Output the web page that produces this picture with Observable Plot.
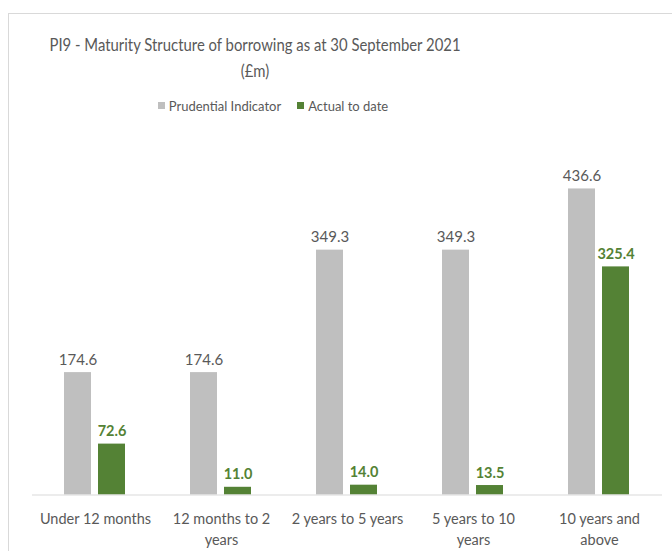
<!DOCTYPE html>
<html>
<head>
<meta charset="utf-8">
<script src="https://cdn.jsdelivr.net/npm/d3@7"></script>
<script src="https://cdn.jsdelivr.net/npm/@observablehq/plot@0.6"></script>
<style>
  html, body { margin: 0; padding: 0; background: #fff; }
  #page { position: relative; width: 672px; height: 551px; overflow: hidden; font-family: Lato, "Open Sans", sans-serif; }
  #frame { position: absolute; left: 8px; top: 13px; width: 700px; height: 600px; border: 1px solid #d9d9d9; box-sizing: border-box; }
  #title { position: absolute; left: 0; width: 510px; top: 32px; text-align: center; font-size: 17.5px; line-height: 26px; color: #595959; transform: scaleX(0.85); transform-origin: 255px 0; }
  #legend { position: absolute; left: 0; width: 546px; top: 96px; text-align: center; font-size: 13px; color: #595959; }
  #legend span.item { display: inline-flex; align-items: center; margin: 0 8px; }
  #legend span.sw { display: inline-block; width: 7px; height: 7px; margin-right: 4px; }
  #chart { position: absolute; left: 0; top: 130px; }
</style>
</head>
<body>
<div id="page">
  <div id="frame"></div>
  <div id="title">PI9 - Maturity Structure of borrowing as at 30 September 2021<br>(£m)</div>
  <div id="legend"></div>
  <div id="chart"></div>
</div>
<script>
const categories = ["Under 12 months", "12 months to 2 years", "2 years to 5 years", "5 years to 10 years", "10 years and above"];
const tickLabels = ["Under 12 months", "12 months to 2\nyears", "2 years to 5 years", "5 years to 10\nyears", "10 years and\nabove"];
const series = ["Prudential Indicator", "Actual to date"];
const prudential = [174.6, 174.6, 349.3, 349.3, 436.6];
const actual = [72.6, 11.0, 14.0, 13.5, 325.4];
const colors = ["#bfbfbf", "#548235"];
const labelColors = ["#595959", "#548235"];

const data = [];
categories.forEach((c, i) => {
  data.push({category: c, series: series[0], value: prudential[i]});
  data.push({category: c, series: series[1], value: actual[i]});
});

const legend = document.getElementById("legend");
series.forEach((s, i) => {
  const item = document.createElement("span");
  item.className = "item";
  const sw = document.createElement("span");
  sw.className = "sw";
  sw.style.background = colors[i];
  item.appendChild(sw);
  item.appendChild(document.createTextNode(s));
  legend.appendChild(item);
});

const H = 421;
const chart = Plot.plot({
  width: 672,
  height: H,
  marginLeft: 30,
  marginRight: 9,
  marginTop: 14,
  marginBottom: 56.5,
  style: {fontFamily: "Lato, 'Open Sans', sans-serif", fontSize: "14px", color: "#595959", background: "transparent"},
  fx: {domain: categories, padding: 0, label: null},
  x: {domain: series, axis: null, insetLeft: 31.6, insetRight: 31.6, paddingInner: 0.2, paddingOuter: 0},
  y: {domain: [0, 500], axis: null},
  color: {domain: series, range: colors},
  marks: [
    Plot.barY(data, {fx: "category", x: "series", y: "value", fill: "series"}),
    Plot.ruleY([0], {stroke: "#d9d9d9", strokeWidth: 1}),
    Plot.axisFx({anchor: "bottom", tickSize: 0, tickPadding: 15, fontSize: 14.5, lineHeight: 1.4, label: null,
      fill: "#595959", tickFormat: d => tickLabels[categories.indexOf(d)]}),
    Plot.text(data.filter(d => d.series === series[0]), {fx: "category", x: "series", y: "value",
      text: d => d.value.toFixed(1), lineAnchor: "bottom", dy: -8, fontSize: 15, fill: labelColors[0]}),
    Plot.text(data.filter(d => d.series === series[1]), {fx: "category", x: "series", y: "value",
      text: d => d.value.toFixed(1), lineAnchor: "bottom", dy: -8, fontSize: 14.5, fontWeight: "bold", fill: labelColors[1]})
  ]
});
document.getElementById("chart").appendChild(chart);
</script>
</body>
</html>
